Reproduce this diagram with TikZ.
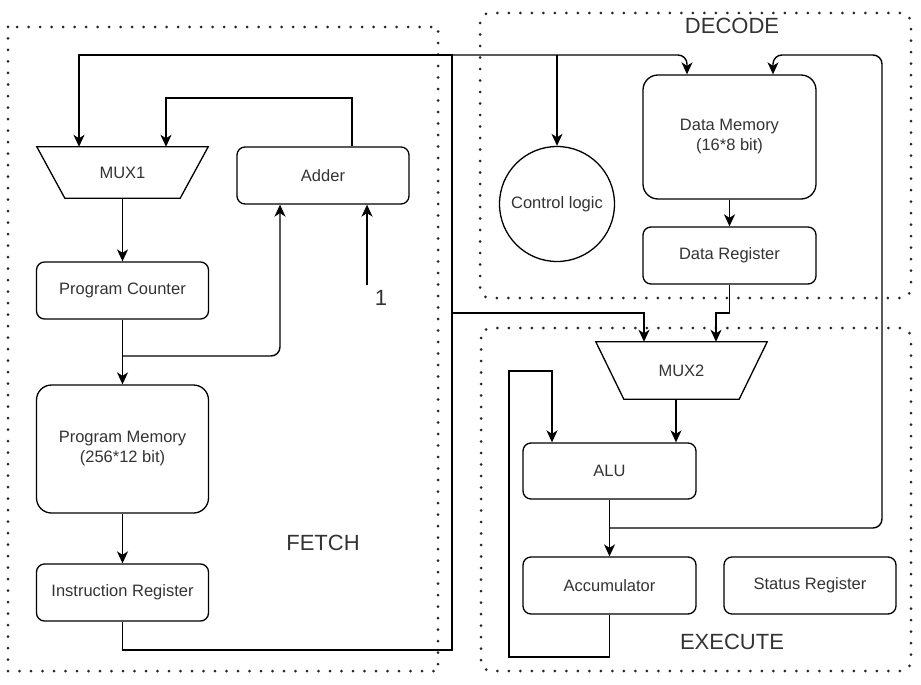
\documentclass[tikz,border=0pt]{standalone}
\usepackage{fontspec}
\setmainfont{Liberation Sans}
\usetikzlibrary{arrows.meta,calc}
\definecolor{txt}{HTML}{333333}
\tikzset{
  wire/.style={line width=1.4pt,black},
  arr/.style={wire,-{Stealth[length=12pt,width=11pt,inset=3.5pt]}},
  blk/.style={draw,line width=1.3pt,rounded corners=8pt,minimum width=172pt,minimum height=57pt,inner sep=0pt,align=center,font=\fontsize{16.5}{20}\selectfont,text=txt},
  mem/.style={blk,rounded corners=15pt},
  muxbox/.style={draw=none,minimum width=171pt,minimum height=#1,inner sep=0pt,font=\fontsize{16.5}{20}\selectfont,text=txt},
  stage/.style={font=\fontsize{22}{26}\selectfont,text=txt,inner sep=0pt},
  frame/.style={line width=3pt,black!85,line cap=round,dash pattern=on 0pt off 11.5pt},
}
\begin{document}
\begin{tikzpicture}[x=1pt,y=-1pt]
\useasboundingbox (0,0) rectangle (921,685);
% frames
\draw[frame] (8,27) rectangle (438,671);
\draw[frame,rounded corners=10pt] (480,13) rectangle (911,298);
\draw[frame,rounded corners=10pt] (481,328) rectangle (911,671);
\node[stage] (lfetch) at (323,543) {FETCH};
\node[stage] (ldecode) at (732,26) {DECODE};
\node[stage] (lexec) at (732,642) {EXECUTE};
% FETCH blocks
\node[muxbox=51pt] (mux1) at (122.5,172.5) {MUX1};
\draw[line width=1.3pt] (mux1.north west) -- (mux1.north east) -- ([xshift=-28pt]mux1.south east) -- ([xshift=28pt]mux1.south west) -- cycle;
\node[blk] (adder) at (323,175.5) {Adder};
\node[blk] (pc) at (122.5,290.5) {Program Counter};
\node[mem,minimum height=128pt] (pm) at (122.5,449) {Program Memory\\(256*12 bit)};
\node[blk] (ir) at (122.5,592.5) {Instruction Register};
\node[stage] (one) at (381,298) {1};
% DECODE blocks
\node[draw,circle,line width=1.3pt,minimum size=115pt,inner sep=0pt,font=\fontsize{16.5}{20}\selectfont,text=txt] (cl) at (557,204) {Control logic};
\node[mem,minimum width=173pt,minimum height=124pt] (dm) at (729.5,137) {Data Memory\\(16*8 bit)};
\node[blk,minimum width=173pt] (dr) at (729.5,255.5) {Data Register};
% EXECUTE blocks
\node[muxbox=57pt] (mux2) at (681.5,370.5) {MUX2};
\draw[line width=1.3pt] (mux2.north west) -- (mux2.north east) -- ([xshift=-28pt]mux2.south east) -- ([xshift=28pt]mux2.south west) -- cycle;
\node[blk,minimum width=173pt,minimum height=56pt] (alu) at (609.5,471) {ALU};
\node[blk,minimum width=173pt] (acc) at (609.5,585.5) {Accumulator};
\node[blk] (sr) at (810,585.5) {Status Register};
% junction coordinates
\coordinate (jtop) at (452,55);
\coordinate (jbot) at (452,650);
\coordinate (jmid) at (452,313);
\coordinate (jpc) at (123,356);
\coordinate (jalu) at (610,528);
\coordinate (onein) at (367,285);
% FETCH wires
\draw[arr] (mux1.south) -- (pc.north);
\draw[arr] (pc.south) -- (pm.north);
\draw[arr] (pm.south) -- (ir.north);
\draw[arr,rounded corners=9pt] (jpc) -| ([xshift=-43pt]adder.south);
\draw[arr] (adder.north -| 352,0) |- (166,98) -- ([xshift=43.5pt]mux1.north);
\draw[arr] (onein) -- ([xshift=44pt]adder.south);
\draw[arr] (ir.south) |- (jbot) -- (jtop) -| ([xshift=-43.5pt]mux1.north);
% DECODE wires
\draw[arr,rounded corners=9pt] (jtop) -| ([xshift=-42.5pt]dm.north);
\draw[arr] (jtop -| cl.north) -- (cl.north);
\draw[arr,line width=1.8pt] (dm.south) -- (dr.north);
\draw[arr] (dr.south) |- (716,313) -- ([xshift=34.5pt]mux2.north);
\draw[arr] (jmid) -| ([xshift=-37.5pt]mux2.north);
% EXECUTE wires
\draw[arr] ([xshift=-5.5pt]mux2.south) -- ([xshift=66.5pt]alu.north);
\draw[arr] (alu.south) -- (acc.north);
\draw[arr,rounded corners=9pt] (jalu) -| (882,55) -| ([xshift=43.5pt]dm.north);
\draw[arr] (acc.south) |- (509,657) |- (552,371) -- ([xshift=-57.5pt]alu.north);
\end{tikzpicture}
\end{document}
